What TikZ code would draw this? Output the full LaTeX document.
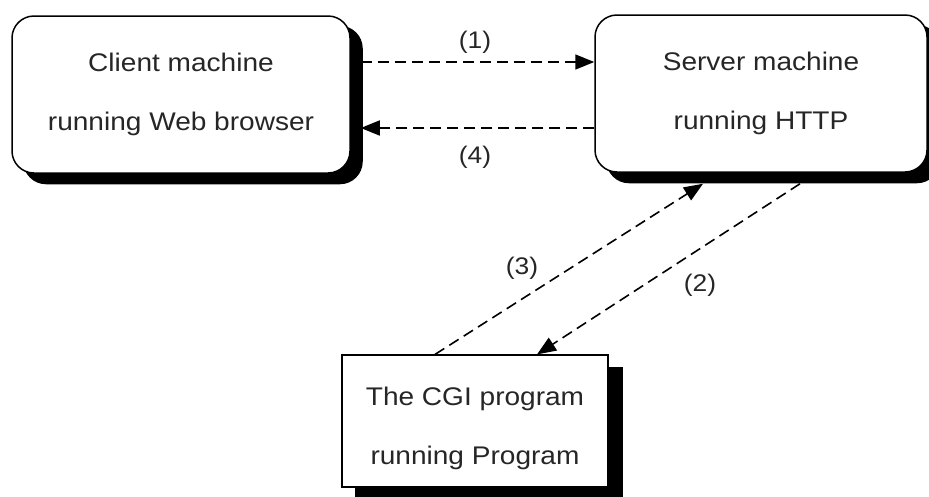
\documentclass[tikz,border=0pt]{standalone}
\usepackage{fontspec}
\setmainfont{Liberation Sans}[FakeStretch=1.1]
\usetikzlibrary{arrows.meta,shadows}

\begin{document}
\begin{tikzpicture}[x=1pt,y=-1pt,
  txt/.style={font=\fontsize{25.5}{59}\selectfont, text=black!85, align=center},
  roundbox/.style={txt, draw=black, line width=1.5pt, fill=white,
    rounded corners=22pt, inner sep=0pt,
    copy shadow={shadow xshift=12pt, shadow yshift=-10.5pt, fill=black, draw=black}},
  plainbox/.style={txt, draw=black, line width=1.2pt, fill=white, inner sep=0pt,
    copy shadow={shadow xshift=14pt, shadow yshift=-13pt, fill=black, draw=black}},
  flow/.style={line width=1.6pt, dash pattern=on 11pt off 6pt,
    -{Triangle[length=19pt,width=15pt]}},
  tag/.style={font=\fontsize{24}{28}\selectfont, text=black!85, inner sep=0pt}]

\useasboundingbox (0,0) rectangle (929,496);

% the three machines
\node[roundbox, minimum width=338pt, minimum height=157pt] (client) at (181,94.5)
  {Client machine\\running Web browser};
\node[roundbox, minimum width=332pt, minimum height=157pt] (server) at (761,93.5)
  {Server machine\\running HTTP};
\node[plainbox, minimum width=266pt, minimum height=132pt] (cgi) at (475,421)
  {\rule{0pt}{34pt}The CGI program\\running Program};

% request / response between client and server
\draw[flow] ([xshift=10pt]client.east |- 0,62) -- (server.west |- 0,62);
\draw[flow] (server.west |- 0,128) -- ([xshift=10pt]client.east |- 0,128);

% server hands off to the CGI program and gets the result back
\draw[flow] ([yshift=-11pt]server.south -| 800,0) -- (cgi.north -| 537,0);
\draw[flow] (cgi.north -| 435,0) -- ([yshift=-11pt]server.south -| 703,0);

% step numbers
\node[tag] (t1) at (475,42) {(1)};
\node[tag] (t4) at (475,157) {(4)};
\node[tag] (t3) at (522,268) {(3)};
\node[tag] (t2) at (700,285) {(2)};
\end{tikzpicture}
\end{document}
